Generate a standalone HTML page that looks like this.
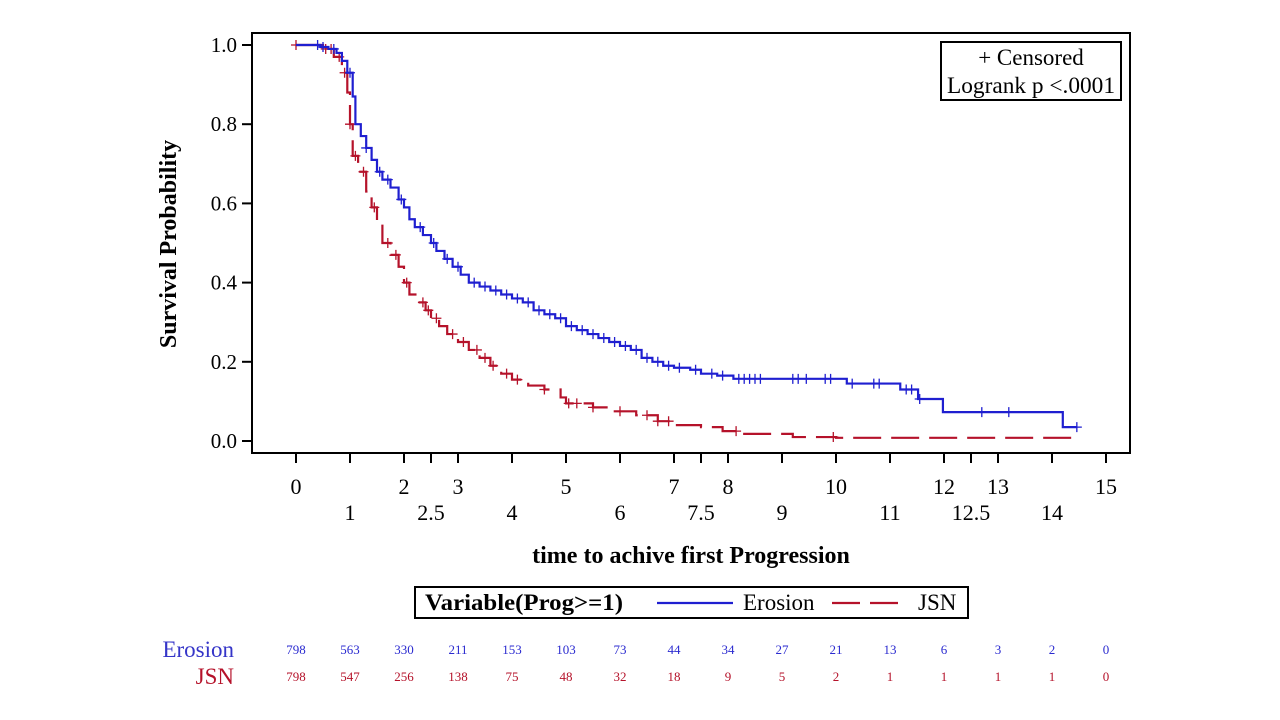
<!DOCTYPE html>
<html><head><meta charset="utf-8"><style>
body{margin:0;background:#fff;}
svg{display:block;font-family:"Liberation Serif",serif;}
</style></head><body>
<svg id="chart" width="1280" height="720" viewBox="0 0 1280 720" xmlns="http://www.w3.org/2000/svg">
<rect x="0" y="0" width="1280" height="720" fill="#fff"/>
<g id="plot"></g>
</svg>
<script>
const xTicks=[0,1,2,2.5,3,4,5,6,7,7.5,8,9,10,11,12,12.5,13,14,15];
const xRow1=[0,2,3,5,7,8,10,12,13,15];
const xRow2=[1,2.5,4,6,7.5,9,11,12.5,14];
const yTicks=[0,0.2,0.4,0.6,0.8,1.0];
const riskTimes=[0,1,2,3,4,5,6,7,8,9,10,11,12,13,14,15];
const erosionRisk=[798,563,330,211,153,103,73,44,34,27,21,13,6,3,2,0];
const jsnRisk=[798,547,256,138,75,48,32,18,9,5,2,1,1,1,1,0];
const erosionT=[0,0.45,0.6,0.75,0.85,0.95,1.05,1.1,1.2,1.3,1.4,1.5,1.6,1.75,1.9,2.0,2.1,2.2,2.35,2.5,2.6,2.75,2.9,3.05,3.2,3.4,3.6,3.8,4.0,4.2,4.4,4.6,4.8,5.0,5.2,5.4,5.6,5.8,6.0,6.2,6.4,6.6,6.8,7.0,7.3,7.5,7.8,8.1,10.2,11.19,11.52,11.98,14.2,14.46];
const erosionS=[1.0,0.995,0.99,0.98,0.96,0.93,0.87,0.8,0.77,0.74,0.71,0.68,0.66,0.64,0.61,0.59,0.56,0.54,0.52,0.5,0.48,0.46,0.44,0.42,0.4,0.39,0.38,0.37,0.36,0.35,0.33,0.32,0.31,0.29,0.28,0.27,0.26,0.25,0.24,0.23,0.21,0.2,0.19,0.185,0.18,0.17,0.165,0.157,0.145,0.13,0.106,0.073,0.035,0.035];
const erosionCens=[0.4,0.5,0.7,1.0,1.3,1.55,1.7,1.95,2.3,2.55,2.8,3.0,3.3,3.5,3.7,3.9,4.1,4.3,4.5,4.7,4.9,5.1,5.3,5.5,5.7,5.9,6.1,6.3,6.5,6.7,6.9,7.1,7.4,7.7,7.9,8.2,8.3,8.4,8.5,8.6,9.2,9.3,9.45,9.8,9.9,10.3,10.7,10.8,11.3,11.4,11.55,12.7,13.2,14.46];
const jsnT=[0,0.5,0.7,0.85,0.95,1.0,1.05,1.15,1.3,1.4,1.5,1.6,1.75,1.9,2.0,2.1,2.25,2.4,2.5,2.65,2.8,3.0,3.2,3.4,3.6,3.8,4.0,4.3,4.6,4.9,5.0,5.5,5.8,6.3,6.7,7.0,7.5,7.9,8.2,9.2,10.0,14.46];
const jsnS=[1.0,0.99,0.97,0.93,0.88,0.8,0.72,0.68,0.63,0.59,0.55,0.5,0.47,0.44,0.4,0.37,0.35,0.33,0.31,0.29,0.27,0.25,0.23,0.21,0.19,0.17,0.155,0.14,0.13,0.11,0.095,0.085,0.075,0.065,0.05,0.04,0.035,0.025,0.018,0.01,0.008,0.005];
const jsnCens=[0,0.55,0.65,0.8,0.9,1.0,1.1,1.25,1.45,1.7,1.85,2.05,2.35,2.45,2.6,2.9,3.1,3.35,3.5,3.65,3.9,4.1,4.6,5.05,5.2,5.5,6.0,6.5,6.7,6.9,8.15,9.95];
const ns="http://www.w3.org/2000/svg";
const g=document.getElementById('plot');
const X=t=>296+54*t, Y=s=>441-396*s;
function el(tag,attrs,parent){const e=document.createElementNS(ns,tag);for(const k in attrs)e.setAttribute(k,attrs[k]);(parent||g).appendChild(e);return e;}
function txt(str,attrs){const e=el('text',attrs);e.textContent=str;return e;}
function stepAt(T,S,t){let v=S[0];for(let i=0;i<T.length;i++){if(T[i]<=t)v=S[i];}return v;}
const frame=el('rect',{x:252,y:33,width:878,height:420,fill:'none',stroke:'#000','stroke-width':2});


yTicks.forEach(v=>{
 const l=el('line',{x1:242,x2:252,y1:Y(v),y2:Y(v),stroke:'#000','stroke-width':2});
 
 
 const t=txt(v.toFixed(1),{x:237,y:Y(v)+7,'text-anchor':'end','font-size':21});
 
 
});
xTicks.forEach(v=>{
 const l=el('line',{x1:X(v),x2:X(v),y1:453,y2:463,stroke:'#000','stroke-width':2});
 
 
});
xRow1.forEach(v=>{const t=txt(String(v),{x:X(v),y:494,'text-anchor':'middle','font-size':22});
 
 });
xRow2.forEach(v=>{const t=txt(String(v),{x:X(v),y:520,'text-anchor':'middle','font-size':22});
 
 });
let yt=txt('Survival Probability',{x:0,y:0,'text-anchor':'middle','font-size':24,'font-weight':'bold',transform:'translate(176,244) rotate(-90)'});


let xt=txt('time to achive first Progression',{x:691,y:563,'text-anchor':'middle','font-size':24,'font-weight':'bold'});


function curve(T,S,C,color,dash,name){
 let d='M'+X(T[0])+','+Y(S[0]);
 for(let i=1;i<T.length;i++){d+=' H'+X(T[i])+' V'+Y(S[i]);}
 const p=el('path',{d:d,fill:'none',stroke:color,'stroke-width':2.2});
 if(dash)p.setAttribute('stroke-dasharray',dash);
 
 
 C.forEach(t=>{const s=stepAt(T,S,t),cx=X(t),cy=Y(s);
  const m=el('path',{d:`M${cx-5},${cy} H${cx+5} M${cx},${cy-5} V${cy+5}`,stroke:color,'stroke-width':1.3,fill:'none'});
  
  
 });
}
curve(jsnT,jsnS,jsnCens,'#b5122a','28,10','jsn');
curve(erosionT,erosionS,erosionCens,'#1f1fd0',null,'erosion');
const ib=el('rect',{x:941,y:42,width:180,height:58,fill:'#fff',stroke:'#000','stroke-width':2});


let c1=txt('+ Censored',{x:1031,y:65,'text-anchor':'middle','font-size':23});


let c2=txt('Logrank p <.0001',{x:1031,y:93,'text-anchor':'middle','font-size':23,textLength:168,lengthAdjust:'spacingAndGlyphs'});


const lb=el('rect',{x:415,y:587,width:553,height:31,fill:'#fff',stroke:'#000','stroke-width':2});


let lt=txt('Variable(Prog>=1)',{x:425,y:610,'font-size':23,'font-weight':'bold',textLength:198,lengthAdjust:'spacingAndGlyphs'});


let le1=el('line',{x1:657,x2:733,y1:603,y2:603,stroke:'#1f1fd0','stroke-width':2.2});


let le1t=txt('Erosion',{x:743,y:610,'font-size':23});


let le2=el('line',{x1:832,x2:908,y1:603,y2:603,stroke:'#b5122a','stroke-width':2.2,'stroke-dasharray':'28,10'});


let le2t=txt('JSN',{x:918,y:610,'font-size':23});


let r1=txt('Erosion',{x:234,y:657,'text-anchor':'end','font-size':23,fill:'#3535c8'});


let r2=txt('JSN',{x:234,y:684,'text-anchor':'end','font-size':23,fill:'#b5122a'});


riskTimes.forEach((t,i)=>{
 const a=txt(String(erosionRisk[i]),{x:X(t),y:654,'text-anchor':'middle','font-size':13,fill:'#2b2bd0'});
 
 
 const b=txt(String(jsnRisk[i]),{x:X(t),y:681,'text-anchor':'middle','font-size':13,fill:'#b5122a'});
 
 
});
</script>
</body></html>
